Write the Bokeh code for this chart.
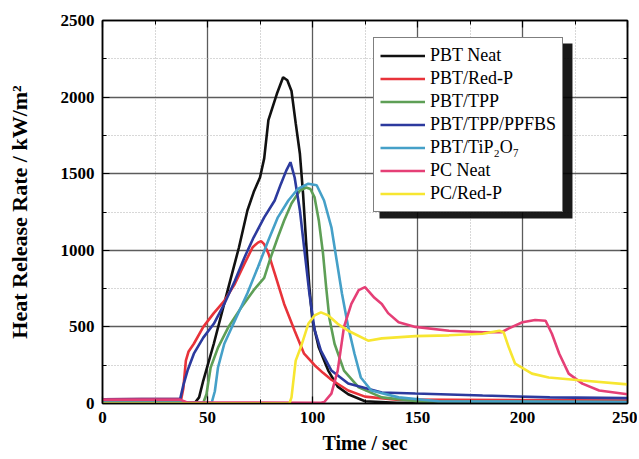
from bokeh.plotting import figure
from bokeh.models import (Range1d, LinearAxis, SingleIntervalTicker, Legend, LegendItem,
                          BoxAnnotation)
from bokeh.embed import file_html
from bokeh.resources import INLINE

# ---- data (time / s, heat release rate / kW m^-2) ----
pbt_neat_t = [0, 44, 46, 48, 53, 60, 65, 69, 72, 75, 77, 79, 83, 86, 88, 90, 92, 94, 95.5, 97, 98.5, 100, 103, 107.5, 112, 117, 125, 140, 250]
pbt_neat_y = [5, 5, 40, 150, 390, 760, 1020, 1260, 1380, 1475, 1600, 1850, 2020, 2130, 2110, 2040, 1830, 1630, 1370, 1045, 760, 540, 365, 215, 110, 60, 15, 5, 5]

pbt_redp_t = [0, 37.5, 38.5, 39.7, 41, 43.5, 48, 53, 58, 63, 67.5, 71.5, 74, 75.5, 77, 79, 82, 86.5, 91.5, 96, 101, 105, 109, 117, 125, 140, 250]
pbt_redp_y = [28, 30, 100, 280, 340, 390, 500, 590, 670, 780, 910, 1020, 1050, 1060, 1040, 980, 850, 650, 475, 325, 250, 200, 155, 85, 45, 25, 20]

pbt_tpp_t = [0, 48, 49.5, 51.5, 55, 60, 66, 72, 77, 80, 83.5, 86.5, 90, 94, 97, 99, 101, 103, 105, 106.5, 108, 110.5, 115, 122, 133, 150, 250]
pbt_tpp_y = [5, 5, 60, 235, 365, 500, 625, 740, 820, 950, 1085, 1195, 1305, 1390, 1410, 1400, 1345, 1195, 980, 760, 560, 390, 215, 105, 40, 15, 10]

pbt_ppfbs_t = [0, 37, 38.5, 40.5, 43.5, 48, 53, 58, 63, 67.5, 72, 77, 82, 85, 87.5, 89.5, 91.5, 94, 96, 98.5, 101, 104, 109, 117, 133, 149, 181, 213, 250]
pbt_ppfbs_y = [28, 30, 120, 215, 325, 430, 520, 650, 800, 950, 1085, 1215, 1325, 1435, 1520, 1575, 1475, 1260, 1020, 720, 480, 345, 215, 130, 72, 65, 52, 40, 35]

pbt_tip_t = [0, 52, 53.5, 55, 58, 63, 69, 74, 79, 83.5, 88.5, 93, 98, 102, 105.5, 109, 111.5, 114, 117, 120, 123, 128, 141, 160, 250]
pbt_tip_y = [5, 5, 80, 235, 390, 540, 720, 890, 1065, 1215, 1325, 1400, 1435, 1425, 1325, 1150, 935, 720, 500, 325, 170, 85, 40, 15, 10]

pc_neat_t = [0, 37, 40, 104, 105.6, 109, 112, 115, 118.5, 122, 125, 129.5, 133, 136, 141, 149, 165, 181, 190, 193.5, 200, 206, 211, 214, 217.5, 222, 228.5, 236.5, 250]
pc_neat_y = [25, 25, 8, 5, 10, 65, 215, 500, 650, 740, 760, 690, 650, 590, 530, 500, 475, 465, 465, 490, 530, 545, 540, 455, 325, 195, 130, 85, 60]

pc_redp_t = [0, 89, 90, 92, 94.5, 98, 101, 104, 107.5, 112, 117, 126.5, 133, 149, 165, 181, 189, 191, 193.5, 196.5, 204.5, 212.5, 228.5, 250]
pc_redp_y = [0, 0, 40, 280, 370, 520, 575, 595, 575, 520, 475, 410, 425, 440, 445, 455, 475, 465, 365, 260, 195, 170, 150, 125]

series_names = ["PBT Neat", "PBT/Red-P", "PBT/TPP", "PBT/TPP/PPFBS", "PBT/TiP\u2082O\u2087", "PC Neat", "PC/Red-P"]
series_t = [pbt_neat_t, pbt_redp_t, pbt_tpp_t, pbt_ppfbs_t, pbt_tip_t, pc_neat_t, pc_redp_t]
series_y = [pbt_neat_y, pbt_redp_y, pbt_tpp_y, pbt_ppfbs_y, pbt_tip_y, pc_neat_y, pc_redp_y]
series_colors = ["#111111", "#e8333a", "#5e9f56", "#2c3a9e", "#45a0c8", "#e53f76", "#f7e631"]

x_label = "Time / sec"
y_label = "Heat Release Rate / kW/m\u00b2"

FONT = "Liberation Serif"

p = figure(width=637, height=457, output_backend="svg", toolbar_location=None,
           x_range=Range1d(0, 250), y_range=Range1d(0, 2500),
           min_border_left=102, min_border_right=10, min_border_top=20, min_border_bottom=54)

p.background_fill_color = "white"
p.outline_line_color = "black"
p.outline_line_width = 1.5

# grids
for g in (p.xgrid, p.ygrid):
    g.grid_line_color = "#5c5c5c"
    g.grid_line_width = 1.3
    g.minor_grid_line_color = "#b0b0b0"
    g.minor_grid_line_dash = "1 2"
    g.minor_grid_line_width = 1

xt = SingleIntervalTicker(interval=50, num_minor_ticks=2)
yt = SingleIntervalTicker(interval=500, num_minor_ticks=2)
p.xaxis.ticker = xt
p.yaxis.ticker = yt
p.xgrid.ticker = xt
p.ygrid.ticker = yt


def style_axis(ax, labels=True):
    ax.major_tick_in = 7
    ax.major_tick_out = 0
    ax.minor_tick_in = 4
    ax.minor_tick_out = 0
    ax.axis_line_color = "black"
    ax.axis_line_width = 1.5
    ax.major_tick_line_color = "black"
    ax.minor_tick_line_color = "black"
    ax.major_tick_line_width = 1.2
    if labels:
        ax.major_label_text_font = FONT
        ax.major_label_text_font_style = "bold"
        ax.major_label_text_font_size = "17px"
        ax.major_label_text_color = "black"
        ax.axis_label_text_font = FONT
        ax.axis_label_text_font_style = "bold"
        ax.axis_label_text_font_size = "20px"
        ax.axis_label_text_color = "black"
    else:
        ax.major_label_text_font_size = "1px"
        ax.major_label_text_color = None
        ax.major_label_standoff = 0


p.xaxis.axis_label = x_label
p.yaxis.axis_label = y_label
style_axis(p.xaxis[0])
style_axis(p.yaxis[0])
p.xaxis.major_label_standoff = 8
p.yaxis.major_label_standoff = 8
p.xaxis.axis_label_standoff = 6
p.yaxis.axis_label_standoff = 26
p.yaxis.axis_label_text_font_size = "22px"

right_ax = LinearAxis(ticker=yt)
top_ax = LinearAxis(ticker=xt)
style_axis(right_ax, labels=False)
style_axis(top_ax, labels=False)
p.add_layout(right_ax, "right")
p.add_layout(top_ax, "above")

# legend drop shadow (drawn below the legend box)
shadow = BoxAnnotation(left=131.9, right=223.8, bottom=1207, top=2350,
                       fill_color="black", fill_alpha=0.9, line_color=None, level="overlay")
p.add_layout(shadow)

items = []
for name, t, y, c in zip(series_names, series_t, series_y, series_colors):
    r = p.line(t, y, line_color=c, line_width=2.6)
    items.append(LegendItem(label=name, renderers=[r]))

legend = Legend(items=items, location=(271, 191))
legend.label_text_font = FONT
legend.label_text_font_size = "18px"
legend.label_text_color = "black"
legend.glyph_width = 45
legend.glyph_height = 23
legend.label_height = 23
legend.spacing = 0
legend.padding = 6
legend.margin = 0
legend.label_standoff = 5
legend.border_line_color = "black"
legend.border_line_width = 1
legend.background_fill_color = "white"
legend.background_fill_alpha = 1
p.add_layout(legend, "center")

open("out.html", "w").write(file_html(p, INLINE))
